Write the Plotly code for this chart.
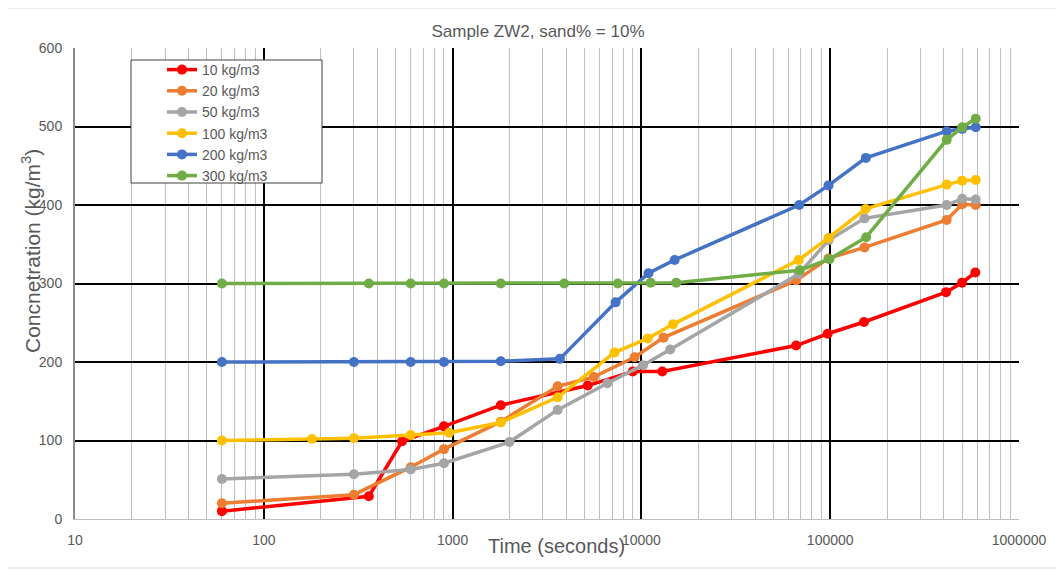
import plotly.graph_objects as go

# ---- data ----
names = ["10 kg/m3", "20 kg/m3", "50 kg/m3", "100 kg/m3", "200 kg/m3", "300 kg/m3"]
colors = ["#FF0000", "#ED7D31", "#A5A5A5", "#FFC000", "#4472C4", "#70AD47"]

t_10 = [60, 360, 540, 900, 1800, 5200, 9000, 12900, 66000, 97000, 151000, 411000, 499000, 587000]
c_10 = [10, 29, 99, 118, 145, 170, 188, 188, 221, 236, 251, 289, 301, 314]

t_20 = [60, 300, 600, 900, 1800, 3600, 5600, 9200, 13100, 66000, 98000, 152000, 414000, 500000, 590000]
c_20 = [20, 31, 66, 89, 124, 169, 181, 206, 231, 304, 332, 346, 381, 401, 400]

t_50 = [60, 300, 600, 900, 2000, 3600, 6600, 10200, 14200, 68000, 98000, 152000, 414000, 500000, 590000]
c_50 = [51, 57, 63, 71, 98, 139, 173, 196, 216, 312, 355, 383, 400, 408, 407]

t_100 = [60, 180, 300, 600, 960, 1800, 3600, 7200, 10800, 14700, 68000, 98000, 154000, 414000, 500000, 590000]
c_100 = [100, 102, 103, 107, 110, 123, 155, 212, 230, 248, 330, 358, 395, 426, 431, 432]

t_200 = [60, 300, 600, 900, 1800, 3700, 7300, 10900, 15000, 68500, 98000, 154500, 414000, 500000, 590000]
c_200 = [200, 200, 200, 200, 201, 204, 276, 313, 330, 400, 425, 460, 494, 497, 499]

t_300 = [60, 360, 600, 900, 1800, 3900, 7500, 11200, 15300, 69000, 99000, 155000, 414000, 500000, 590000]
c_300 = [300, 300, 300, 300, 300, 300, 300, 301, 301, 317, 331, 359, 483, 499, 510]

x_tickvals = [10, 100, 1000, 10000, 100000, 1000000]
x_ticktext = ["10", "100", "1000", "10000", "100000", "1000000"]
y_tickvals = [0, 100, 200, 300, 400, 500, 600]

series = [(t_10, c_10), (t_20, c_20), (t_50, c_50), (t_100, c_100), (t_200, c_200), (t_300, c_300)]

# page body has an 8px margin: figure origin sits at screen (8, 8)
OFF = 8
W, H = 1064 - OFF, 575 - OFF
PL, PR, PT, PB = 75, 1019, 48, 519          # plot area in screen pixels
PW, PH = PR - PL, PB - PT


def fx(px):
    return (px - PL) / PW


def fy(py):
    return (PB - py) / PH


fig = go.Figure()
for (t, c), name, col in zip(series, names, colors):
    fig.add_trace(go.Scatter(
        x=t, y=c, name=name, mode="lines+markers",
        line=dict(color=col, width=3.5),
        marker=dict(color=col, size=10),
    ))

minor_vals = [k * 10 ** e for e in range(1, 6) for k in range(2, 10)]

TXT = "#595959"
fig.update_layout(
    width=W, height=H,
    paper_bgcolor="white", plot_bgcolor="white",
    margin=dict(l=PL - OFF, r=1064 - PR, t=PT - OFF, b=575 - PB, autoexpand=False),
    font=dict(family="Liberation Sans, Arial, sans-serif", color=TXT, size=14),
    showlegend=True,
    legend=dict(
        x=fx(162), y=fy(54), xanchor="left", yanchor="top",
        bgcolor="rgba(0,0,0,0)", borderwidth=0,
        font=dict(size=14, color=TXT, family="Liberation Sans, Arial, sans-serif"),
        tracegroupgap=0, itemwidth=30,
    ),
    xaxis=dict(
        type="log", range=[1, 6],
        tickmode="array", tickvals=x_tickvals, ticktext=x_ticktext,
        showgrid=True, gridcolor="black", gridwidth=2,
        minor=dict(tickmode="array", tickvals=minor_vals, showgrid=True,
                   gridcolor="#BFBFBF", gridwidth=1, ticks=""),
        ticks="", ticklabelstandoff=8,
        showline=True, linecolor="#BFBFBF", linewidth=1,
        zeroline=False, tickfont=dict(size=14, color=TXT),
    ),
    yaxis=dict(
        range=[0, 600], tickmode="array", tickvals=y_tickvals,
        showgrid=True, gridcolor="black", gridwidth=2,
        ticks="", ticklabelstandoff=8,
        showline=True, linecolor="#8C8C8C", linewidth=2,
        zeroline=False, tickfont=dict(size=14, color=TXT),
    ),
    title=dict(text="Sample ZW2, sand% = 10%", x=(538 - OFF) / W, xanchor="center",
               y=1 - (31 - OFF) / H, yanchor="middle",
               font=dict(size=17, color=TXT)),
    annotations=[
        dict(text="Time (seconds)", xref="paper", yref="paper",
             x=fx(556), y=fy(546), xanchor="center", yanchor="middle",
             showarrow=False, font=dict(size=20, color=TXT)),
        dict(text="Concnetration (kg/m<sup>3</sup>)", xref="paper", yref="paper",
             x=fx(31), y=fy(251), xanchor="center", yanchor="middle",
             textangle=-90, showarrow=False, font=dict(size=21, color=TXT)),
    ],
    shapes=[
        dict(type="rect", xref="paper", yref="paper",
             x0=fx(131), x1=fx(322), y0=fy(183), y1=fy(60),
             line=dict(color="#404040", width=1), fillcolor="white", layer="above"),
        dict(type="rect", xref="paper", yref="paper",
             x0=fx(7), x1=fx(1058), y0=fy(568), y1=fy(8),
             line=dict(color="#D9D9D9", width=1), fillcolor="rgba(0,0,0,0)", layer="below"),
    ],
)

fig.write_html("out.html")
